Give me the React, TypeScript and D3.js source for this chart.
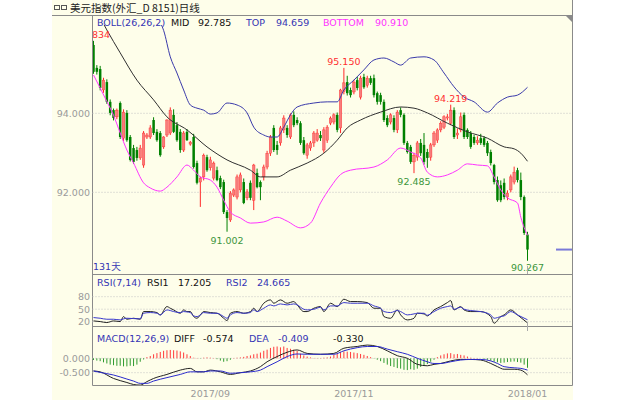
import React from 'react';
import * as d3 from 'd3';

// ---------- data ----------
const titleText = '美元指数(外汇_D 8151)日线';
const daysLabel = '131天';

const opens = [
  95.73, 95.15, 95.12, 94.59, 94.79, 94.29, 94.08, 93.91, 94.26, 93.37,
  94.01, 93.40, 93.12, 93.07, 92.87, 92.69, 93.40, 93.40, 93.83, 93.53,
  93.50, 93.15, 93.45, 93.50, 93.96, 93.70, 93.53, 93.07, 93.53, 93.22,
  93.40, 92.74, 92.26, 92.39, 92.89, 92.62, 92.36, 92.56, 92.36, 92.26,
  91.50, 91.30, 91.93, 91.88, 92.06, 92.26, 91.86, 92.24, 91.80, 92.49,
  92.26, 92.39, 92.64, 92.99, 93.63, 93.20, 93.25, 93.58, 93.63, 93.40,
  93.96, 93.83, 93.75, 93.32, 92.94, 93.12, 93.25, 93.32, 93.45, 93.07,
  93.32, 93.75, 93.78, 93.96, 93.63, 94.55, 94.79, 94.59, 94.54, 94.84,
  94.41, 94.92, 94.71, 94.89, 94.89, 94.51, 94.46, 94.29, 93.88, 93.78,
  93.88, 93.58, 94.08, 93.96, 93.25, 93.15, 92.77, 92.89, 93.25, 93.20,
  93.02, 92.89, 93.20, 93.32, 93.58, 93.65, 93.88, 93.75, 94.08, 93.45,
  93.58, 93.96, 93.58, 93.50, 93.40, 93.25, 93.37, 93.37, 93.25, 93.02,
  92.69, 92.31, 92.18, 92.24, 91.88, 92.06, 92.26, 92.56, 92.31, 91.88,
  90.93,
];
const highs = [
  95.834, 95.22, 95.20, 94.90, 94.86, 94.35, 94.12, 94.12, 94.30, 94.10,
  94.08, 93.45, 93.20, 93.15, 93.20, 93.55, 93.50, 93.70, 93.90, 93.60,
  93.55, 93.42, 93.85, 94.15, 94.10, 93.78, 93.60, 93.55, 93.60, 93.30,
  93.48, 92.80, 92.40, 92.98, 92.95, 92.90, 92.78, 92.65, 92.42, 92.32,
  91.55, 92.03, 92.10, 92.45, 92.50, 92.35, 92.08, 92.30, 92.72, 92.60,
  92.30, 92.70, 93.05, 93.45, 93.70, 93.30, 93.68, 93.95, 93.70, 94.00,
  94.05, 93.90, 93.80, 93.40, 93.25, 93.30, 93.55, 93.60, 93.55, 93.65,
  93.70, 93.92, 94.00, 94.02, 94.62, 95.15, 94.95, 94.65, 94.85, 94.92,
  94.95, 95.00, 94.95, 94.95, 94.98, 94.55, 94.52, 94.35, 93.95, 94.00,
  93.95, 94.08, 94.15, 94.00, 93.30, 93.20, 93.00, 93.30, 93.35, 93.50,
  93.10, 93.25, 93.55, 93.62, 93.80, 93.95, 93.98, 94.219, 94.15, 93.62,
  94.02, 94.02, 93.62, 93.55, 93.45, 93.42, 93.48, 93.42, 93.30, 93.08,
  92.72, 92.40, 92.30, 92.35, 92.05, 92.45, 92.65, 92.62, 92.50, 91.92,
  91.00,
];
const lows = [
  95.00, 94.98, 94.58, 94.52, 94.24, 93.95, 93.82, 93.85, 93.35, 93.30,
  93.28, 92.78, 92.72, 92.80, 92.82, 92.62, 93.35, 93.35, 93.45, 93.28,
  92.90, 93.10, 93.40, 93.45, 93.50, 93.28, 93.00, 93.02, 93.30, 93.18,
  92.60, 92.20, 91.63, 92.30, 92.52, 92.55, 92.30, 92.28, 92.08, 91.45,
  91.002, 91.25, 91.88, 91.82, 92.00, 91.70, 91.80, 91.80, 91.55, 92.10,
  91.80, 92.30, 92.58, 92.92, 93.02, 92.95, 93.18, 93.50, 93.38, 93.35,
  93.65, 93.70, 93.20, 92.95, 92.85, 93.05, 93.15, 93.28, 93.30, 93.00,
  93.25, 93.70, 93.72, 93.52, 93.50, 94.48, 94.45, 94.40, 94.48, 94.58,
  94.35, 94.62, 94.65, 94.72, 94.40, 94.22, 94.22, 93.78, 93.65, 93.72,
  93.52, 93.50, 93.90, 93.20, 92.98, 92.72, 92.485, 92.80, 92.92, 92.70,
  92.62, 92.80, 93.15, 93.25, 93.52, 93.60, 93.82, 93.70, 93.35, 93.35,
  93.52, 93.35, 93.35, 93.10, 93.20, 93.20, 93.20, 93.15, 92.92, 92.68,
  92.20, 91.76, 91.75, 91.82, 91.80, 92.00, 92.20, 92.25, 91.80, 90.92,
  90.267,
];
const closes = [
  95.05, 95.05, 94.64, 94.84, 94.29, 94.01, 93.88, 94.08, 93.40, 94.03,
  93.32, 92.82, 92.77, 92.87, 93.12, 93.50, 93.45, 93.63, 93.50, 93.32,
  92.94, 93.40, 93.83, 94.08, 93.53, 93.32, 93.07, 93.50, 93.32, 93.27,
  92.64, 92.24, 92.36, 92.94, 92.56, 92.82, 92.74, 92.31, 92.13, 91.50,
  91.35, 91.98, 92.06, 92.39, 92.44, 91.73, 92.01, 91.86, 92.69, 92.13,
  92.13, 92.64, 92.99, 93.40, 93.07, 93.07, 93.63, 93.88, 93.45, 93.96,
  93.70, 93.75, 93.25, 92.99, 93.20, 93.25, 93.50, 93.50, 93.37, 93.58,
  93.65, 93.88, 93.96, 93.58, 94.59, 94.77, 94.51, 94.46, 94.79, 94.64,
  94.89, 94.66, 94.89, 94.77, 94.46, 94.29, 94.29, 93.83, 93.70, 93.96,
  93.58, 94.03, 93.96, 93.25, 93.02, 92.77, 92.94, 93.25, 92.99, 92.77,
  92.87, 93.20, 93.50, 93.58, 93.75, 93.91, 93.91, 94.08, 93.40, 93.50,
  93.91, 93.40, 93.40, 93.15, 93.25, 93.32, 93.25, 93.20, 92.99, 92.74,
  92.26, 91.80, 91.80, 91.88, 91.98, 92.39, 92.51, 92.31, 91.88, 90.97,
  90.55,
];

// Bollinger bands (at these bar indices)
const midIdx = [0, 4, 8, 13, 18, 22, 28, 34, 40, 47, 50, 55, 59, 64, 69, 73, 76, 80, 86, 92, 96, 100, 106, 112, 118, 123, 126, 128, 130];
const midVals = [96.74, 96.11, 95.53, 94.84, 94.34, 93.91, 93.58, 93.15, 92.82, 92.56, 92.39, 92.39, 92.56, 92.74, 92.99, 93.32, 93.63, 93.83, 94.03, 94.16, 94.13, 94.01, 93.75, 93.53, 93.37, 93.15, 93.10, 92.99, 92.785];
const topIdx = [20, 21, 23, 25, 27, 29, 31, 33, 35, 37, 40, 43, 46, 48, 51, 53, 55, 57, 59, 61, 66, 70, 73, 75, 78, 81, 84, 87, 90, 92, 95, 99, 102, 105, 108, 111, 114, 118, 121, 124, 127, 130];
const topVals = [96.30, 96.10, 95.43, 95.02, 94.59, 94.21, 94.13, 94.08, 93.98, 94.01, 94.26, 94.21, 94.01, 93.65, 93.45, 93.40, 93.40, 93.65, 93.96, 94.16, 94.26, 94.29, 94.29, 94.59, 94.84, 95.10, 95.35, 95.40, 95.30, 95.22, 95.40, 95.43, 95.35, 95.02, 94.67, 94.41, 94.29, 94.03, 94.26, 94.41, 94.46, 94.659];
const botIdx = [0, 2, 4, 6, 8, 10, 12, 15, 17, 20, 22, 25, 28, 30, 32, 35, 37, 39, 41, 44, 47, 51, 55, 58, 62, 65, 68, 71, 74, 77, 84, 88, 92, 95, 98, 100, 103, 106, 109, 112, 115, 118, 120, 122, 124, 127, 128, 130];
const botVals = [94.97, 94.64, 94.30, 93.95, 93.50, 93.07, 92.74, 92.24, 92.11, 92.03, 92.13, 92.39, 92.69, 92.56, 92.39, 92.31, 92.13, 91.80, 91.50, 91.35, 91.22, 91.25, 91.37, 91.27, 91.10, 91.22, 91.73, 92.13, 92.45, 92.56, 92.64, 92.82, 93.12, 93.02, 92.87, 92.51, 92.39, 92.44, 92.56, 92.72, 92.69, 92.67, 92.39, 92.06, 91.86, 91.73, 91.37, 90.91];

// RSI
const rsiIdx = [0, 2, 4, 6, 8, 9, 10, 12, 14, 15, 17, 19, 20, 22, 23, 24, 26, 27, 28, 29, 30, 31, 32, 33, 35, 37, 39, 40, 41, 43, 45, 47, 48, 49, 51, 53, 54, 56, 58, 60, 61, 63, 64, 66, 68,
  69, 71, 73, 75, 77, 79, 82, 84, 86, 87, 89, 91, 92, 94, 96, 97, 99, 100, 102, 104, 106, 107, 108, 110, 111, 113, 116, 119, 120, 122, 123, 125, 127, 130];
const rsi1 = [21.9, 20.3, 17.9, 21.9, 20.3, 32.3, 25.9, 28.3, 25.9, 44.3, 44.3, 41.9, 36.3, 56.3, 52.3, 48.3, 40.3, 48.3, 44.3, 44.3, 32.3, 28.3, 36.3, 44.3, 41.9, 40.3, 28.3, 22.7, 40.3, 44.3, 40.3, 44.3, 52.3, 44.3, 64.3, 72.3, 64.3, 72.3, 64.3, 68.3, 60.3, 44.3, 44.3, 52.3, 56.3,
  44.3, 64.3, 56.3, 73.9, 68.3, 68.3, 65.9, 52.3, 52.3, 32.3, 28.3, 48.3, 36.3, 24.3, 28.3, 40.3, 38.7, 33.9, 48.3, 56.3, 65.9, 70.7, 48.3, 56.3, 48.3, 44.3, 44.3, 32.3, 16.3, 32.3, 36.3, 48.3, 36.3, 17.205];
const rsi2 = [29.9, 28.3, 25.9, 25.9, 24.3, 26.7, 28.3, 27.5, 26.7, 40.3, 41.9, 40.3, 36.3, 48.3, 46.7, 44.3, 41.9, 44.3, 43.5, 41.9, 33.9, 32.3, 36.3, 41.9, 40.3, 40.3, 32.3, 28.3, 36.3, 41.9, 40.3, 41.9, 48.3, 44.3, 52.3, 60.3, 57.9, 62.7, 60.3, 62.7, 60.3, 49.9, 48.3, 49.9, 54.7,
  48.3, 57.9, 57.9, 65.9, 64.3, 64.3, 64.3, 57.9, 52.3, 44.3, 41.9, 46.7, 44.3, 36.3, 38.7, 40.3, 40.3, 35.5, 44.3, 52.3, 56.3, 57.9, 49.9, 54.7, 49.9, 46.7, 44.3, 36.3, 28.3, 32.3, 33.9, 44.3, 36.3, 24.665];

// MACD
const macdIdx = [0, 2, 6, 10, 12, 14, 16, 18, 22, 26, 29, 31, 33, 35, 38, 41, 44, 47, 50, 52, 55, 58, 61, 64, 68, 72, 75, 79, 82, 85, 88, 91, 94, 97, 100, 102, 104, 107, 110, 113, 116, 119, 121, 123, 126, 128, 130];
const diffVals = [-0.44, -0.47, -0.70, -0.84, -0.91, -0.93, -0.81, -0.70, -0.56, -0.41, -0.35, -0.47, -0.47, -0.41, -0.47, -0.56, -0.50, -0.44, -0.29, -0.12, 0.06, 0.21, 0.29, 0.17, 0.14, 0.17, 0.35, 0.41, 0.46, 0.41, 0.26, 0.09, 0.00, -0.21, -0.26, -0.21, -0.18, -0.09, -0.04, -0.04, -0.06, -0.18, -0.29, -0.38, -0.38, -0.41, -0.574];
const deaVals = [-0.44, -0.49, -0.58, -0.72, -0.79, -0.87, -0.87, -0.79, -0.67, -0.56, -0.47, -0.47, -0.47, -0.44, -0.44, -0.52, -0.50, -0.47, -0.41, -0.29, -0.12, 0.06, 0.15, 0.14, 0.14, 0.14, 0.26, 0.37, 0.41, 0.41, 0.32, 0.23, 0.14, 0.00, -0.12, -0.18, -0.18, -0.12, -0.06, -0.04, -0.04, -0.09, -0.18, -0.29, -0.33, -0.35, -0.409];
const macdHist = [
  -0.06, -0.08, -0.10, -0.14, -0.18, -0.22, -0.24, -0.26, -0.26, -0.28,
  -0.28, -0.26, -0.27, -0.22, -0.12, -0.04, 0.04, 0.08, 0.14, 0.18,
  0.22, 0.26, 0.28, 0.29, 0.28, 0.27, 0.24, 0.20, 0.14, 0.08,
  0.02, 0.01, -0.01, 0.02, 0.03, 0.02, 0.01, -0.03, -0.08, -0.12,
  -0.10, -0.05, 0.01, 0.02, 0.03, 0.05, 0.08, 0.10, 0.14, 0.16,
  0.20, 0.26, 0.30, 0.36, 0.40, 0.41, 0.38, 0.41, 0.36, 0.33,
  0.30, 0.26, 0.16, 0.10, 0.06, 0.03, 0.01, 0.01, 0.01, 0.02,
  0.03, 0.06, 0.12, 0.18, 0.22, 0.24, 0.23, 0.22, 0.20, 0.18,
  0.15, 0.12, 0.08, 0.04, -0.01, -0.05, -0.10, -0.16, -0.22, -0.27,
  -0.30, -0.34, -0.36, -0.40, -0.41, -0.38, -0.40, -0.36, -0.30, -0.26,
  -0.20, -0.12, -0.05, 0.04, 0.10, 0.14, 0.17, 0.18, 0.14, 0.15,
  0.12, 0.10, 0.06, 0.02, 0.01, 0.01, 0.00, -0.02, -0.05, -0.08,
  -0.12, -0.14, -0.16, -0.15, -0.13, -0.12, -0.11, -0.13, -0.15, -0.22,
  -0.33,
];

// annotated extremes
const extremeIdx = [0, 75, 107, 40, 96, 130];
const extremeKind = ['high', 'high', 'high', 'low', 'low', 'low'];
const extremeLabels = ['95.834', '95.150', '94.219', '91.002', '92.485', '90.267'];

// axes
const priceTicks = [94, 92];
const priceTickLabels = ['94.000', '92.000'];
const rsiTicks = [80, 50, 20];
const rsiTickLabels = ['80', '50', '20'];
const macdTicks = [0, -0.5];
const macdTickLabels = ['0.000', '-0.500'];
const dateTickIdx = [35, 78, 130];
const dateTickLabels = ['2017/09', '2017/11', '2018/01'];

// legends
const bollLegend = ['BOLL(26,26,2)', 'MID', '92.785', 'TOP', '94.659', 'BOTTOM', '90.910'];
const rsiLegend = ['RSI(7,14)', 'RSI1', '17.205', 'RSI2', '24.665'];
const macdLegend = ['MACD(12,26,9)', 'DIFF', '-0.574', 'DEA', '-0.409', '-0.330'];

// ---------- drawing ----------
const W = 626, H = 400;
const L = 92.5, R = 572.5;
const FONT = "'DejaVu Sans', Verdana, sans-serif";
const BLUE = '#3434b4';
const MAG = '#ff33ff';
const RED = '#ff2a2a';
const GREEN = '#008000';
const GRAY = '#9a9a9a';

const xs = d3.scaleLinear().domain([0, 130]).range([93.5, 527.5]);
const yp = d3.scaleLinear().domain([92, 94]).range([192.3, 113.3]);
const yr = d3.scaleLinear().domain([20, 80]).range([321.7, 296.7]);
const ym = d3.scaleLinear().domain([-0.5, 0]).range([372.7, 358.3]);

function pathOf(idx: number[], vals: number[], y: (v: number) => number) {
  const pts: [number, number][] = idx.map((d, k) => [xs(d), y(vals[k])]);
  return d3.line().curve(d3.curveMonotoneX)(pts) || '';
}

export default function App() {
  const n = closes.length;
  const candles = d3.range(n).map((i) => {
    const o = opens[i], c = closes[i], h = highs[i], l = lows[i];
    const up = c >= o;
    const cx = xs(i);
    const top = yp(Math.max(o, c));
    const bot = yp(Math.min(o, c));
    return (
      <g key={i}>
        <line x1={cx} x2={cx} y1={yp(h)} y2={yp(l)} stroke={up ? RED : GREEN} strokeWidth={1} />
        <rect x={cx - 1.25} y={top} width={2.5} height={Math.max(1, bot - top)}
          fill={up ? '#f77c7c' : GREEN} stroke={up ? RED : 'none'} strokeWidth={up ? 0.4 : 0} />
      </g>
    );
  });

  const legendRow = (items: string[], xsPos: number[], colors: string[], y: number) =>
    items.map((t, k) => (
      <text key={t + k} x={xsPos[k]} y={y} fill={colors[k]} fontSize={9.5} fontFamily={FONT}>{t}</text>
    ));

  return (
    <svg width={W} height={H} style={{ position: 'absolute', left: 0, top: 0 }} xmlns="http://www.w3.org/2000/svg">
      <defs>
        <clipPath id="cMain"><rect x={93} y={25} width={479} height={249} /></clipPath>
        <clipPath id="cLbl"><rect x={93} y={16} width={479} height={258} /></clipPath>
        <clipPath id="cRsi"><rect x={93} y={275} width={479} height={51} /></clipPath>
        <clipPath id="cMacd"><rect x={93} y={327} width={479} height={58} /></clipPath>
      </defs>
      <rect x={0} y={0} width={W} height={H} fill="#ffffff" />
      <rect x={52} y={0} width={521} height={H} fill="#fefeea" />

      {/* header */}
      <rect x={54.5} y={5.5} width={5} height={4} fill="none" stroke="#555" strokeWidth={1} />
      <rect x={61.5} y={5.5} width={5} height={4} fill="none" stroke="#555" strokeWidth={1} />
      <text x={70} y={12} fontSize={10.5} fill="#222" fontFamily="'Noto Sans CJK SC', sans-serif">{titleText}</text>
      <line x1={52} x2={R} y1={15.5} y2={15.5} stroke="#8a8a8a" />
      <path d={`M566,16 L572,16 L572,22 Z`} fill="#8a8a8a" />

      {/* frame */}
      <line x1={L} x2={L} y1={15} y2={385.5} stroke="#8a8a8a" />
      <line x1={R} x2={R} y1={0} y2={385.5} stroke="#8a8a8a" />
      <line x1={L} x2={R} y1={274.5} y2={274.5} stroke="#8a8a8a" />
      <line x1={L} x2={R} y1={326.5} y2={326.5} stroke="#8a8a8a" />
      <line x1={L} x2={R} y1={385.5} y2={385.5} stroke="#8a8a8a" />

      {/* grids + y labels */}
      {priceTicks.map((t, k) => (
        <g key={'p' + k}>
          <line x1={L} x2={R} y1={yp(t)} y2={yp(t)} stroke="#c4c4c4" strokeDasharray="1,2" />
          <text x={90} y={yp(t) + 3.5} textAnchor="end" fontSize={9.5} fill={GRAY} fontFamily={FONT}>{priceTickLabels[k]}</text>
        </g>
      ))}
      {rsiTicks.map((t, k) => (
        <g key={'r' + k}>
          <line x1={L} x2={R} y1={yr(t)} y2={yr(t)} stroke="#c4c4c4" strokeDasharray="1,2" />
          <text x={90} y={yr(t) + 3.5} textAnchor="end" fontSize={9.5} fill={GRAY} fontFamily={FONT}>{rsiTickLabels[k]}</text>
        </g>
      ))}
      {macdTicks.map((t, k) => (
        <g key={'m' + k}>
          <line x1={L} x2={R} y1={ym(t)} y2={ym(t)} stroke="#c4c4c4" strokeDasharray="1,2" />
          <text x={90} y={ym(t) + 3.5} textAnchor="end" fontSize={9.5} fill={GRAY} fontFamily={FONT}>{macdTickLabels[k]}</text>
        </g>
      ))}

      {/* main panel */}
      <g clipPath="url(#cMain)">
        {candles}
        <path d={pathOf(midIdx, midVals, yp)} fill="none" stroke="#303030" strokeWidth={1} />
        <path d={pathOf(topIdx, topVals, yp)} fill="none" stroke="#3a3aaa" strokeWidth={1} />
        <path d={pathOf(botIdx, botVals, yp)} fill="none" stroke={MAG} strokeWidth={1} />
      </g>
      <g clipPath="url(#cLbl)">
        {extremeIdx.map((i, k) => {
          const hi = extremeKind[k] === 'high';
          const y = hi ? yp(highs[i]) - 3 : Math.min(271, yp(lows[i]) + 12);
          return (
            <text key={'e' + k} x={xs(i)} y={y} textAnchor="middle" fontSize={9.5} fontFamily={FONT}
              fill={hi ? '#ff3030' : '#3c963c'}>{extremeLabels[k]}</text>
          );
        })}
      </g>
      <line x1={556} x2={572} y1={yp(closes[n - 1])} y2={yp(closes[n - 1])} stroke="#7a7ad8" strokeWidth={2} />
      <text x={93} y={270} fontSize={9.5} fill={BLUE} fontFamily={FONT}>{daysLabel}</text>
      {legendRow(bollLegend, [97, 171, 198, 246, 276, 323, 375], [BLUE, '#111', '#111', BLUE, BLUE, MAG, MAG], 26)}

      {/* RSI panel */}
      <g clipPath="url(#cRsi)">
        <path d={pathOf(rsiIdx, rsi1, yr)} fill="none" stroke="#222" strokeWidth={1} />
        <path d={pathOf(rsiIdx, rsi2, yr)} fill="none" stroke="#3a3acc" strokeWidth={1} />
      </g>
      {legendRow(rsiLegend, [97, 147, 178, 226, 257], [BLUE, '#111', '#111', BLUE, BLUE], 286)}

      {/* MACD panel */}
      <g clipPath="url(#cMacd)">
        {macdHist.map((v, i) => (
          <line key={'h' + i} x1={xs(i)} x2={xs(i)} y1={ym(0)} y2={ym(v)}
            stroke={v >= 0 ? '#ff3a3a' : '#2f9a2f'} strokeWidth={1} />
        ))}
        <path d={pathOf(macdIdx, diffVals, ym)} fill="none" stroke="#222" strokeWidth={1} />
        <path d={pathOf(macdIdx, deaVals, ym)} fill="none" stroke="#2a2acc" strokeWidth={1} />
      </g>
      {legendRow(macdLegend, [97, 174, 203, 249, 278, 333], [BLUE, '#111', '#111', BLUE, BLUE, '#111'], 342)}

      {/* cursor marks at last bar */}
      <line x1={xs(130)} x2={xs(130)} y1={266} y2={274} stroke="#aaa" />
      <line x1={xs(130)} x2={xs(130)} y1={322} y2={331} stroke="#aaa" />

      {/* date axis */}
      {dateTickIdx.map((i, k) => (
        <text key={'d' + k} x={xs(i)} y={397} textAnchor="middle" fontSize={9.5} fill={GRAY} fontFamily={FONT}>{dateTickLabels[k]}</text>
      ))}
    </svg>
  );
}
